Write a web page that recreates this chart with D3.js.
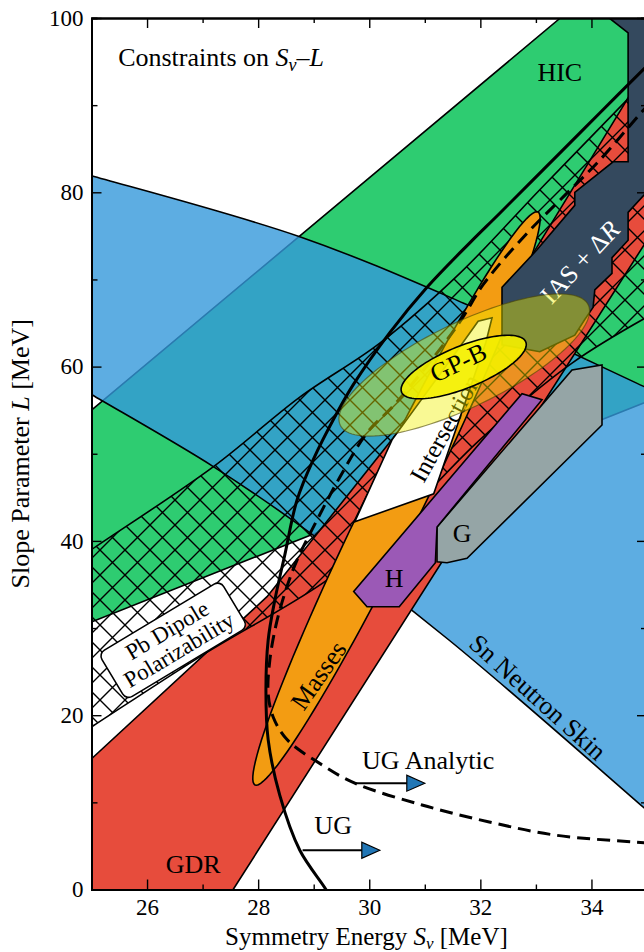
<!DOCTYPE html>
<html>
<head>
<meta charset="utf-8">
<script src="https://cdn.jsdelivr.net/npm/d3@7"></script>
<style>
body { margin: 0; background: #fff; }
text { font-family: "Liberation Serif", "Times New Roman", serif; }
</style>
</head>
<body>
<svg id="chart" width="644" height="952"></svg>
<script>
// axis ticks
var xMajor = [26, 28, 30, 32, 34];
var xMinor = [25, 27, 29, 31, 33, 35];
var yMajor = [0, 20, 40, 60, 80, 100];
var yMinor = [10, 30, 50, 70, 90];

// HIC band (Sv, L)
var hicUpper = [[25, 55.0], [33.44, 100], [36, 113.6]];
var hicLower = [[25, 30.7], [36, 58.5]];

// Sn neutron skin band
var snUpper = [[24.5, 82.8], [25, 81.9], [28.75, 74.9], [31.69, 67.3], [34.95, 57.7], [36, 54.6]];
var snLower = [[24.5, 58.7], [25, 56.8], [27.2, 48.5], [28.94, 40.9], [31.44, 28.6], [34.95, 9.35], [36, 3.5]];

// GDR
var gdr = [[24, 14], [25, 15], [28.16, 33.6], [30.43, 51.8], [32.95, 73.0], [34.60, 90.2],
           [35.5, 100], [37, 110], [37, 94.5], [27.55, 0], [27, -6], [24, -6]];

// Pb dipole polarizability band
var pbUpper = [[24.5, 36.8], [25, 39.0], [27.19, 48.5], [28.75, 56.5], [30.19, 62.7],
               [31.63, 70.7], [33.07, 80.3], [34.64, 90.6], [35.41, 95.8]];
var pbLower = [[24.5, 16.6], [25, 18.65], [26.95, 26.7], [29.24, 35.5], [30.55, 42.4],
               [31.99, 51.6], [33.65, 60.4], [35.23, 66.5]];

// Masses ellipse: centre and two half-axes
var massesCenter = [30.49, 44.87];
var massesAxes = [[2.547, 32.87], [0.452, -1.423]];

// intersection region
var intersection = [[29.74, 42.2], [31.16, 45.4], [32.10, 62.8], [32.21, 65.6],
                    [31.96, 65.2], [31.6, 62.0], [30.41, 51.6]];

// IAS + dR
var ias = [[34.32, 104], [34.32, 100], [34.66, 98.3], [34.66, 83.5], [34.39, 83.5], [33.70, 80.0],
           [33.70, 78.5], [33.02, 73.4], [32.39, 69.1], [32.39, 62.5], [33.07, 61.7], [33.70, 63.6],
           [33.88, 65.4], [34.03, 66.8], [34.06, 68.8], [34.37, 70.7], [34.37, 72.5], [34.66, 74.5],
           [34.66, 77.7], [34.95, 79.7], [35.23, 82.0], [35.23, 104]];

// H and G
var hPoly = [[29.72, 34.2], [29.96, 32.45], [30.54, 32.45], [31.19, 37.5], [31.22, 41.6], [33.11, 56.2], [32.75, 56.9]];
var gPoly = [[31.22, 41.6], [33.65, 59.6], [34.19, 60.2], [34.19, 53.3], [31.76, 38.0], [31.40, 37.5], [31.22, 37.6]];

// GP-B ellipses
var gpbOuterCenter = [31.71, 60.18];
var gpbOuterAxes = [[2.232, 6.908], [0.329, -4.337]];
var gpbInnerCenter = [31.70, 59.95];
var gpbInnerAxes = [[1.118, 2.880], [0.142, -2.237]];

// unitary gas bounds
var ugSolid = [[29.3, -1], [29.22, 0], [28.75, 4.5], [28.39, 10.8], [28.18, 17.2], [28.14, 22.9], [28.18, 28.6],
               [28.30, 33.2], [28.48, 38.4], [28.70, 44.7], [28.99, 49.3], [29.42, 54.7], [29.71, 57.9],
               [30.37, 63.9], [31.04, 69.1], [31.81, 74.2], [32.35, 77.6], [33.43, 84.5], [34.15, 89.1],
               [34.95, 94.2], [35.3, 96.4]];
var ugAnalytic = [[35.3, 92], [34.93, 89.4], [34.15, 83.7], [33.56, 79.9], [32.84, 75.3], [32.05, 69.4],
                  [31.69, 65.7], [31.26, 61.9], [30.45, 55.6], [29.96, 52.4], [29.47, 47.3], [29.06, 42.4],
                  [28.70, 37.8], [28.50, 34.4], [28.32, 30.3], [28.21, 26.3], [28.18, 22.5], [28.27, 19.8],
                  [28.52, 17.2], [29.15, 14.3], [29.74, 12.2], [30.95, 9.7], [32.16, 7.75], [33.34, 6.25],
                  [34.95, 5.36], [35.3, 5.2]];
var ugArrow = [[28.8, 4.5], [30.19, 4.5]];
var ugaArrow = [[29.74, 12.2], [31.0, 12.2]];

var margin = { top: 18, left: 91.5 };
var width = 555.5, height = 871.5;

var svg = d3.select('#chart');

var x = d3.scaleLinear().domain([25, 35]).range([margin.left, margin.left + width]);
var y = d3.scaleLinear().domain([0, 100]).range([margin.top + height, margin.top]);

var defs = svg.append('defs');
defs.append('clipPath').attr('id', 'plotClip')
    .append('rect')
    .attr('x', x(25)).attr('y', y(100))
    .attr('width', width).attr('height', height);

var hatch = defs.append('pattern')
    .attr('id', 'xhatch')
    .attr('patternUnits', 'userSpaceOnUse')
    .attr('width', 25).attr('height', 25);
hatch.append('path')
    .attr('d', 'M0,0L25,25M25,0L0,25')
    .attr('stroke', '#000')
    .attr('stroke-width', 1.4);

var lin = d3.line().x(function (d) { return x(d[0]); }).y(function (d) { return y(d[1]); });
var smooth = d3.line().x(function (d) { return x(d[0]); }).y(function (d) { return y(d[1]); }).curve(d3.curveCatmullRom);

function band(upper, lower, gen) {
    var back = gen(lower.slice().reverse());
    return gen(upper) + 'L' + back.slice(1) + 'Z';
}

function ellipse(c, ax) {
    var pts = d3.range(0, 360, 3).map(function (a) {
        var t = a * Math.PI / 180;
        return [c[0] + ax[0][0] * Math.cos(t) + ax[1][0] * Math.sin(t),
                c[1] + ax[0][1] * Math.cos(t) + ax[1][1] * Math.sin(t)];
    });
    return lin(pts) + 'Z';
}

var plot = svg.append('g').attr('clip-path', 'url(#plotClip)');

// HIC
plot.append('path')
    .attr('d', band(hicUpper, hicLower, lin))
    .attr('fill', '#2ecc71').attr('stroke', '#000').attr('stroke-width', 1.6);

// Sn neutron skin
plot.append('path')
    .attr('d', band(snUpper, snLower, smooth))
    .attr('fill', '#3498db').attr('fill-opacity', 0.8)
    .attr('stroke', '#000').attr('stroke-width', 1.6);

// GDR
plot.append('path')
    .attr('d', lin(gdr) + 'Z')
    .attr('fill', '#e74c3c').attr('stroke', '#000').attr('stroke-width', 1.6);

// Pb dipole polarizability (hatched)
plot.append('path')
    .attr('d', band(pbUpper, pbLower, smooth))
    .attr('fill', 'url(#xhatch)').attr('stroke', '#000').attr('stroke-width', 1.6);

// Masses
plot.append('path')
    .attr('d', ellipse(massesCenter, massesAxes))
    .attr('fill', '#f39c12').attr('stroke', '#000').attr('stroke-width', 1.6);

// Intersection
plot.append('path')
    .attr('d', lin(intersection) + 'Z')
    .attr('fill', '#fff').attr('stroke', '#000').attr('stroke-width', 1.6);

// IAS + dR
plot.append('path')
    .attr('d', lin(ias) + 'Z')
    .attr('fill', '#34495e').attr('stroke', '#000').attr('stroke-width', 1.6);

// G and H
plot.append('path')
    .attr('d', lin(gPoly) + 'Z')
    .attr('fill', '#95a5a6').attr('stroke', '#000').attr('stroke-width', 1.6);
plot.append('path')
    .attr('d', lin(hPoly) + 'Z')
    .attr('fill', '#9b59b6').attr('stroke', '#000').attr('stroke-width', 1.6);

// labels that sit under the GP-B ellipses
function label(g, s, l, angle, size, color) {
    return g.append('text')
        .attr('transform', 'translate(' + x(s) + ',' + y(l) + ') rotate(' + angle + ')')
        .attr('text-anchor', 'middle')
        .attr('dy', '0.35em')
        .attr('font-size', size)
        .attr('fill', color || '#000');
}

label(plot, 31.36, 52.95, -61, 25).text('Intersection');
var iasText = label(plot, 33.79, 72.0, -47, 26, '#fff');
iasText.append('tspan').text('IAS + Δ');
iasText.append('tspan').attr('font-style', 'italic').text('R');

// UG curves
plot.append('path')
    .attr('d', smooth(ugSolid))
    .attr('fill', 'none').attr('stroke', '#000').attr('stroke-width', 3);
plot.append('path')
    .attr('d', smooth(ugAnalytic))
    .attr('fill', 'none').attr('stroke', '#000').attr('stroke-width', 3)
    .attr('stroke-dasharray', '13,7');

// GP-B
plot.append('path')
    .attr('d', ellipse(gpbOuterCenter, gpbOuterAxes))
    .attr('fill', '#f0f000').attr('fill-opacity', 0.42)
    .attr('stroke', '#4a4400').attr('stroke-opacity', 0.6).attr('stroke-width', 1.2);
plot.append('path')
    .attr('d', ellipse(gpbInnerCenter, gpbInnerAxes))
    .attr('fill', '#f4f000').attr('fill-opacity', 0.9)
    .attr('stroke', '#000').attr('stroke-width', 1.6);
label(plot, 31.60, 60.5, -25, 26).text('GP-B');

// arrows
function arrow(pts) {
    var x0 = x(pts[0][0]), x1 = x(pts[1][0]), yy = y(pts[0][1]);
    plot.append('line')
        .attr('x1', x0).attr('x2', x1 - 16).attr('y1', yy).attr('y2', yy)
        .attr('stroke', '#000').attr('stroke-width', 2);
    plot.append('path')
        .attr('d', 'M' + x1 + ',' + yy + 'L' + (x1 - 18) + ',' + (yy - 8) + 'L' + (x1 - 18) + ',' + (yy + 8) + 'Z')
        .attr('fill', '#2176b5').attr('stroke', '#000').attr('stroke-width', 1.2);
}
arrow(ugArrow);
arrow(ugaArrow);

// other labels
label(plot, 33.43, 93.8, 0, 26).text('HIC');
label(plot, 29.08, 24.6, -55, 26).text('Masses');
label(plot, 30.45, 35.75, 0, 26).text('H');
label(plot, 31.67, 40.9, 0, 26).text('G');
label(plot, 33.04, 22.1, 42, 26).text('Sn Neutron Skin');
label(plot, 26.83, 2.9, 0, 26).text('GDR');
label(plot, 29.35, 7.4, 0, 26).text('UG');
label(plot, 31.06, 14.9, 0, 26).text('UG Analytic');

var title = plot.append('text')
    .attr('x', x(25.48)).attr('y', y(94.5))
    .attr('font-size', 26);
title.append('tspan').text('Constraints on ');
title.append('tspan').attr('font-style', 'italic').text('S');
title.append('tspan').attr('font-style', 'italic').attr('font-size', 18).attr('dy', 5).text('v');
title.append('tspan').attr('dy', -5).text('–');
title.append('tspan').attr('font-style', 'italic').text('L');

// Pb dipole polarizability label box
var pb = plot.append('g')
    .attr('transform', 'translate(' + x(26.47) + ',' + y(28.6) + ') rotate(-31)');
pb.append('rect')
    .attr('x', -71).attr('y', -27).attr('width', 142).attr('height', 54)
    .attr('rx', 7)
    .attr('fill', '#fff').attr('stroke', '#000').attr('stroke-width', 1.6);
pb.append('text').attr('text-anchor', 'middle').attr('y', -4).attr('font-size', 23).text('Pb Dipole');
pb.append('text').attr('text-anchor', 'middle').attr('y', 19).attr('font-size', 23).text('Polarizability');

// axes
function styleAxis(g) {
    g.select('.domain').attr('stroke-width', 2);
    g.selectAll('.tick line').attr('stroke-width', 1.4);
    g.selectAll('text').attr('font-size', 23).attr('font-family', '"Liberation Serif", serif');
}

svg.append('g').attr('transform', 'translate(0,' + y(0) + ')')
    .call(d3.axisBottom(x).tickValues(xMajor).tickSizeInner(-10).tickSizeOuter(0).tickPadding(9).tickFormat(d3.format('d')))
    .call(styleAxis);
svg.append('g').attr('transform', 'translate(0,' + y(0) + ')')
    .call(d3.axisBottom(x).tickValues(xMinor).tickSize(-5).tickFormat(''))
    .call(styleAxis);
svg.append('g').attr('transform', 'translate(0,' + y(100) + ')')
    .call(d3.axisTop(x).tickValues(xMajor).tickSizeInner(-10).tickSizeOuter(0).tickFormat(''))
    .call(styleAxis);
svg.append('g').attr('transform', 'translate(0,' + y(100) + ')')
    .call(d3.axisTop(x).tickValues(xMinor).tickSize(-5).tickFormat(''))
    .call(styleAxis);
svg.append('g').attr('transform', 'translate(' + x(25) + ',0)')
    .call(d3.axisLeft(y).tickValues(yMajor).tickSizeInner(-10).tickSizeOuter(0).tickPadding(8).tickFormat(d3.format('d')))
    .call(styleAxis);
svg.append('g').attr('transform', 'translate(' + x(25) + ',0)')
    .call(d3.axisLeft(y).tickValues(yMinor).tickSize(-6).tickFormat(''))
    .call(styleAxis);
svg.append('g').attr('transform', 'translate(' + x(35) + ',0)')
    .call(d3.axisRight(y).tickValues(yMajor).tickSizeInner(-10).tickSizeOuter(0).tickFormat(''))
    .call(styleAxis);
svg.append('g').attr('transform', 'translate(' + x(35) + ',0)')
    .call(d3.axisRight(y).tickValues(yMinor).tickSize(-6).tickFormat(''))
    .call(styleAxis);

// axis titles
var xt = svg.append('text')
    .attr('x', x(29.95)).attr('y', 945)
    .attr('text-anchor', 'middle').attr('font-size', 25);
xt.append('tspan').text('Symmetry Energy ');
xt.append('tspan').attr('font-style', 'italic').text('S');
xt.append('tspan').attr('font-style', 'italic').attr('font-size', 17).attr('dy', 4).text('v');
xt.append('tspan').attr('dy', -4).text(' [MeV]');

var yt = svg.append('text')
    .attr('transform', 'translate(29,' + y(50) + ') rotate(-90)')
    .attr('text-anchor', 'middle').attr('font-size', 26);
yt.append('tspan').text('Slope Parameter ');
yt.append('tspan').attr('font-style', 'italic').text('L');
yt.append('tspan').text(' [MeV]');
</script>
</body>
</html>
